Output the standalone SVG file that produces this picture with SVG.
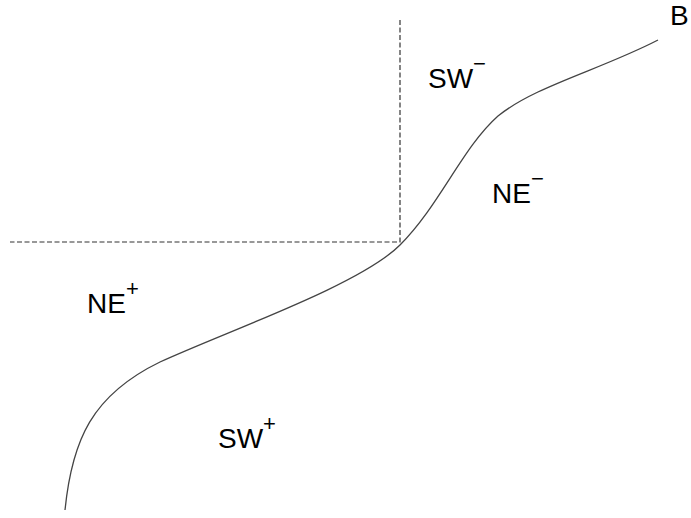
<svg xmlns="http://www.w3.org/2000/svg" width="691" height="518" viewBox="0 0 691 518">
<style>
text{font-family:"Liberation Sans",Arial,sans-serif;font-size:28px;fill:#000}
.sup{font-size:22px}
.dash{stroke:#333;stroke-width:1.2;stroke-dasharray:5 2.5;fill:none}
.curve{stroke:#444;stroke-width:1.3;fill:none}
</style>
<rect width="691" height="518" fill="#fff"/>
<g id="connectors">
<path class="dash" d="M400,20 V242 H10"/>
<path class="curve" d="M65,510 C72,440 92,395 160,362 C230,330 360,285 400,245 C440,205 462,148 498,116 C535,86 600,70 658,40"/>
</g>
<g id="SW-minus"><text x="428" y="88">SW<tspan class="sup" dy="-17">−</tspan></text></g>
<g id="NE-minus"><text x="492" y="203">NE<tspan class="sup" dy="-17">−</tspan></text></g>
<g id="NE-plus"><text x="87" y="313">NE<tspan class="sup" dy="-17">+</tspan></text></g>
<g id="SW-plus"><text x="218" y="448">SW<tspan class="sup" dy="-17">+</tspan></text></g>
<g id="B"><text x="670" y="25">B</text></g>
</svg>
